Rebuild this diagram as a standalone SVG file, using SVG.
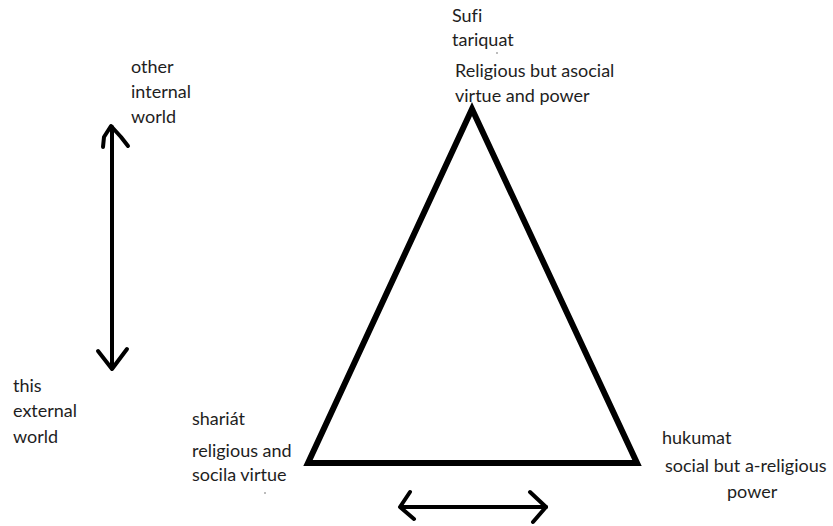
<svg xmlns="http://www.w3.org/2000/svg" width="833" height="526" viewBox="0 0 833 526">
<style>
text{font-family:Lato,"Open Sans","Liberation Sans",sans-serif;font-size:18px;fill:#1e1e1e;font-variant-ligatures:none}
.ln{fill:none;stroke:#000;stroke-width:4;stroke-linecap:round;stroke-linejoin:round}
.tri{fill:none;stroke:#000;stroke-width:6;stroke-linejoin:miter}
</style>
<rect width="833" height="526" fill="#fff"/>
<g id="triangle">
<polygon class="tri" points="472,109 308,463 637,463"/>
</g>
<g id="connectors">
<path class="ln" d="M112,127 V368"/>
<path class="ln" d="M103,147 L104,137 L111,126 L121,137 L128,146"/>
<path class="ln" d="M98,351 L112,369 L127,349"/>
<path class="ln" d="M401,507 H546"/>
<path class="ln" d="M410,492 L400,507 L414,519"/>
<path class="ln" d="M530,492 L546,507 L533,522"/>
</g>
<g id="node-sufi">
<text x="452" y="22">Sufi</text>
<text x="452" y="46">tariquat</text>
<text x="455" y="77">Religious but asocial</text>
<text x="455" y="102">virtue and power</text>
<circle cx="497" cy="53" r="0.8" fill="#666"/>
</g>
<g id="node-other">
<text x="131" y="73">other</text>
<text x="131" y="98">internal</text>
<text x="131" y="123">world</text>
</g>
<g id="node-this">
<text x="13" y="392">this</text>
<text x="13" y="417">external</text>
<text x="13" y="443">world</text>
</g>
<g id="node-shariat">
<text x="192" y="425">shariát</text>
<text x="192" y="457">religious and</text>
<text x="192" y="481">socila virtue</text>
<circle cx="265" cy="493" r="0.8" fill="#666"/>
</g>
<g id="node-hukumat">
<text x="662" y="444">hukumat</text>
<text x="665" y="472">social but a-religious</text>
<text x="727" y="498">power</text>
</g>
</svg>
